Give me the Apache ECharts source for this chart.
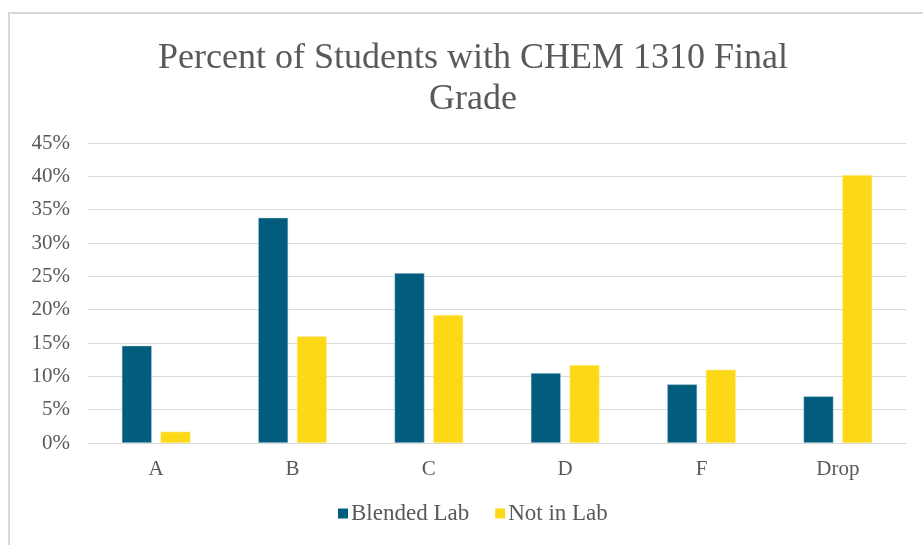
<!DOCTYPE html>
<html>
<head>
<meta charset="utf-8">
<script src="https://cdn.jsdelivr.net/npm/echarts@6/dist/echarts.min.js"></script>
<style>
  html, body { margin: 0; padding: 0; background: #fff; }
  #frame {
    position: absolute; left: 8px; top: 12px; width: 930px; height: 560px;
    border-left: 2px solid #d9d9d9; border-top: 2px solid #d9d9d9;
  }
  #main { position: absolute; left: 0; top: 0; width: 923px; height: 545px; }
</style>
</head>
<body>
<div id="frame"></div>
<div id="main"></div>
<script>
const grades = ["A", "B", "C", "D", "F", "Drop"];
const blendedLab = [14.6, 33.8, 25.5, 10.5, 8.8, 7.0];
const notInLab = [1.7, 16.0, 19.2, 11.7, 11.0, 40.2];

const textColor = "#595959";
const serif = "Liberation Serif";

const option = {
  backgroundColor: "transparent",
  title: {
    text: "Percent of Students with CHEM 1310 Final\nGrade",
    left: 468,
    top: 33,
    textAlign: "center",
    textStyle: {
      fontFamily: serif,
      fontSize: 36,
      fontWeight: "normal",
      color: textColor,
      lineHeight: 41,
    },
  },
  legend: {
    bottom: 15,
    left: 333,
    itemWidth: 10,
    itemHeight: 10,
    itemGap: 26,
    icon: "rect",
    itemStyle: { borderWidth: 0 },
    textStyle: { fontFamily: serif, fontSize: 23, color: textColor, padding: [0, 0, 0, -2] },
    data: ["Blended Lab", "Not in Lab"],
  },
  grid: { left: 88, right: 17, top: 143, bottom: 102 },
  xAxis: {
    type: "category",
    data: grades,
    axisLine: { lineStyle: { color: "#d9d9d9", width: 1 } },
    axisTick: { show: false },
    axisLabel: { fontFamily: serif, fontSize: 21, color: textColor, margin: 16 },
  },
  yAxis: {
    type: "value",
    min: 0,
    max: 45,
    interval: 5,
    axisLine: { show: false },
    axisTick: { show: false },
    splitLine: { lineStyle: { color: "#d9d9d9", width: 1 } },
    axisLabel: {
      fontFamily: serif,
      fontSize: 21,
      color: textColor,
      margin: 18,
      formatter: "{value}%",
    },
  },
  series: [
    {
      name: "Blended Lab",
      type: "bar",
      data: blendedLab,
      barWidth: 30,
      barGap: "29%",
      itemStyle: { color: "#015C7D", borderColor: "#cfe3ea", borderWidth: 0.5 },
    },
    {
      name: "Not in Lab",
      type: "bar",
      data: notInLab,
      barWidth: 30,
      itemStyle: { color: "#FDD816", borderColor: "#fff3b0", borderWidth: 0.5 },
    },
  ],
};

const myChart = echarts.init(document.getElementById("main"));
myChart.setOption(option);
</script>
</body>
</html>
